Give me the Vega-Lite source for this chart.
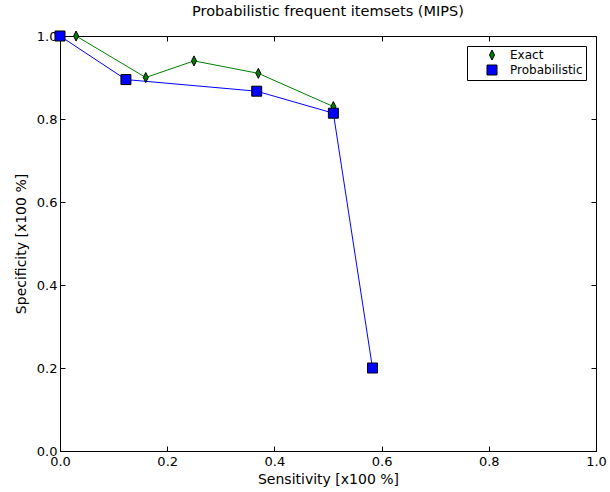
{
  "$schema": "https://vega.github.io/schema/vega-lite/v6.json",
  "autosize": "none",
  "width": 536,
  "height": 415,
  "padding": {"left": 60, "top": 36, "right": 14, "bottom": 41},
  "background": "white",
  "config": {
    "font": "DejaVu Sans",
    "view": {"stroke": "black", "strokeWidth": 1},
    "axis": {
      "grid": false,
      "domainColor": "black",
      "tickColor": "black",
      "labelColor": "black",
      "titleColor": "black",
      "labelFontSize": 13,
      "titleFontSize": 14,
      "titleFontWeight": "normal",
      "ticks": true,
      "tickSize": -5,
      "tickWidth": 1,
      "labelPadding": 9,
      "labelFlush": false,
      "labelOverlap": false
    }
  },
  "title": {"text": "Probabilistic frequent itemsets (MIPS)", "fontSize": 14.5, "fontWeight": "normal", "color": "black", "offset": 10},
  "data": {
    "values": [
      {"series": "Exact", "Sensitivity": 0.03, "Specificity": 1.0},
      {"series": "Exact", "Sensitivity": 0.16, "Specificity": 0.9},
      {"series": "Exact", "Sensitivity": 0.25, "Specificity": 0.94},
      {"series": "Exact", "Sensitivity": 0.37, "Specificity": 0.91},
      {"series": "Exact", "Sensitivity": 0.51, "Specificity": 0.83},
      {"series": "Probabilistic", "Sensitivity": 0.0, "Specificity": 1.0},
      {"series": "Probabilistic", "Sensitivity": 0.123, "Specificity": 0.895},
      {"series": "Probabilistic", "Sensitivity": 0.367, "Specificity": 0.867},
      {"series": "Probabilistic", "Sensitivity": 0.51, "Specificity": 0.814},
      {"series": "Probabilistic", "Sensitivity": 0.583, "Specificity": 0.2}
    ]
  },
  "layer": [
    {
      "transform": [{"filter": "datum.series === 'Exact'"}],
      "mark": {"type": "line", "strokeWidth": 1, "color": "#008000", "clip": false},
      "encoding": {
        "x": {"field": "Sensitivity", "type": "quantitative", "scale": {"domain": [0, 1], "nice": false, "zero": false}, "axis": {"orient": "bottom", "title": "Sensitivity [x100 %]", "format": ".1f", "values": [0, 0.2, 0.4, 0.6, 0.8, 1.0], "tickSize": -5, "titlePadding": 4}},
        "y": {"field": "Specificity", "type": "quantitative", "scale": {"domain": [0, 1], "nice": false, "zero": false}, "axis": {"orient": "left", "title": "Specificity [x100 %]", "format": ".1f", "values": [0, 0.2, 0.4, 0.6, 0.8, 1.0], "tickSize": -5, "labelPadding": 8, "titlePadding": 8}}
      }
    },
    {
      "transform": [{"filter": "datum.series === 'Probabilistic'"}],
      "mark": {"type": "line", "strokeWidth": 1, "color": "#0000ff", "clip": false},
      "encoding": {
        "x": {"field": "Sensitivity", "type": "quantitative", "axis": null},
        "y": {"field": "Specificity", "type": "quantitative", "axis": null}
      }
    },
    {
      "mark": {"type": "point", "filled": true, "stroke": "black", "strokeWidth": 1, "opacity": 1, "clip": false},
      "encoding": {
        "x": {"field": "Sensitivity", "type": "quantitative", "axis": {"orient": "top", "labels": false, "title": null, "domain": false, "tickSize": -5, "values": [0, 0.2, 0.4, 0.6, 0.8, 1.0]}},
        "y": {"field": "Specificity", "type": "quantitative", "axis": {"orient": "right", "labels": false, "title": null, "domain": false, "tickSize": -5, "values": [0, 0.2, 0.4, 0.6, 0.8, 1.0]}},
        "color": {"field": "series", "type": "nominal", "scale": {"domain": ["Exact", "Probabilistic"], "range": ["#008000", "#0000ff"]},
          "legend": {"title": null, "orient": "top-right", "offset": 10, "strokeColor": "black", "fillColor": "white", "padding": 3, "labelFontSize": 12, "labelColor": "black", "symbolSize": 100, "symbolOffset": 16, "labelOffset": 12, "rowPadding": 1, "symbolStrokeWidth": 1, "symbolStrokeColor": "black"}},
        "shape": {"field": "series", "type": "nominal", "scale": {"domain": ["Exact", "Probabilistic"], "range": ["M0,-1L0.5,0L0,1L-0.5,0Z", "square"]}, "legend": null},
        "size": {"value": 100}
      }
    }
  ],
  "resolve": {"axis": {"x": "independent", "y": "independent"}}
}
